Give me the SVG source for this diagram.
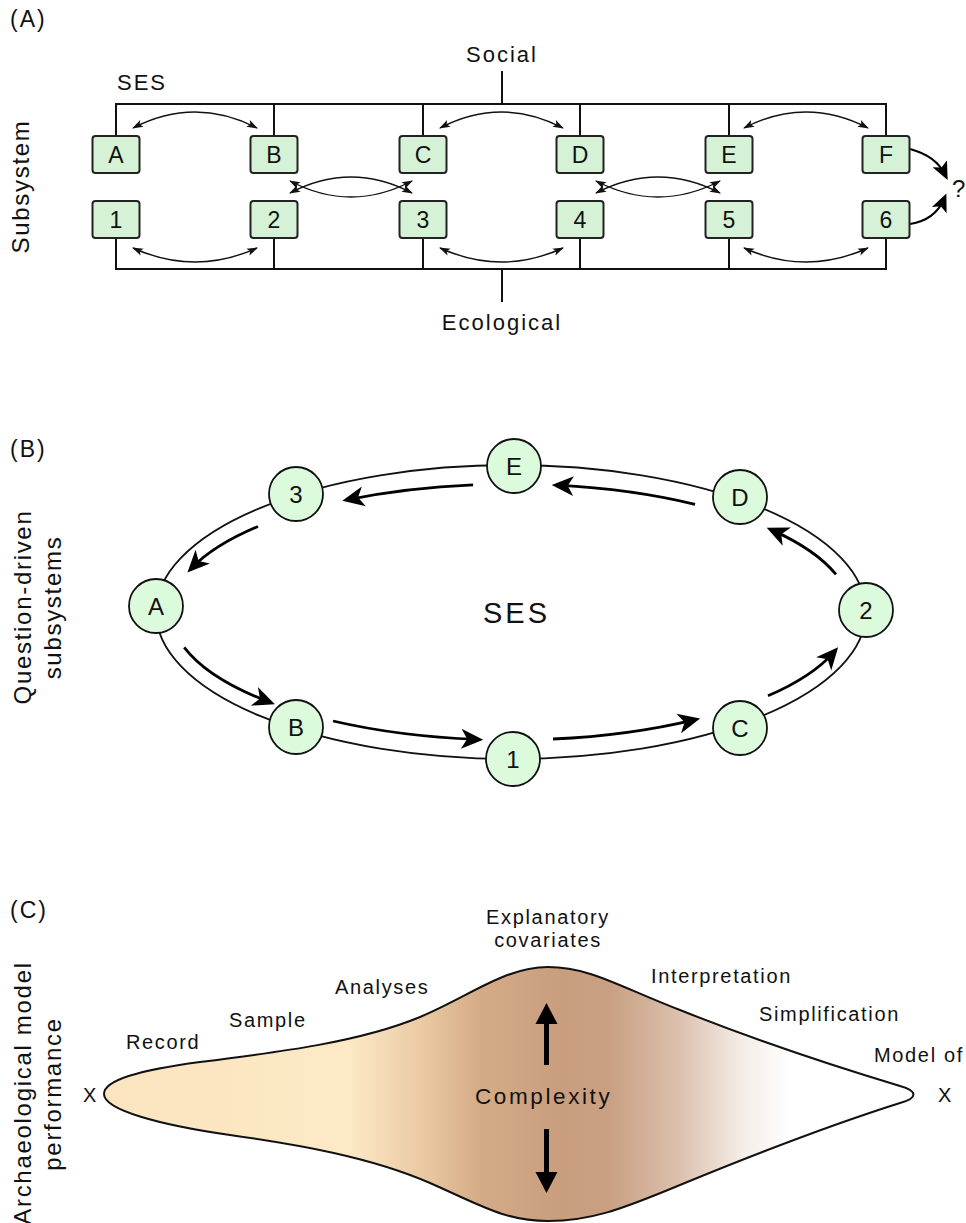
<svg xmlns="http://www.w3.org/2000/svg" width="966" height="1223" viewBox="0 0 966 1223">
<style>
text{font-family:"Liberation Sans",Arial,sans-serif;fill:#111}
.lbl{font-size:22px;letter-spacing:2px}
.side{font-size:24px;letter-spacing:1.7px;text-anchor:middle}
.pnl{font-size:23px;letter-spacing:2px}
.box rect{fill:#d6f2d6;stroke:#222;stroke-width:2}
.box text{font-size:23px;text-anchor:middle}
.node circle{fill:#dcfadc;stroke:#111;stroke-width:1.8}
.node text{font-size:24px;text-anchor:middle}
.ln{fill:none;stroke:#111;stroke-width:2}
.thin{fill:none;stroke:#111;stroke-width:1.4;marker-start:url(#sm);marker-end:url(#sm)}
.bold{fill:none;stroke:#000;stroke-width:2.8;marker-end:url(#bg)}
.q{fill:none;stroke:#000;stroke-width:2;marker-end:url(#qa)}
.c{font-size:20px;letter-spacing:1.65px}
</style>
<defs>
<marker id="sm" markerUnits="userSpaceOnUse" markerWidth="14" markerHeight="10" viewBox="-1 -5 14 10" refX="10" refY="0" orient="auto-start-reverse"><path d="M0,-3.8 L11,0 L0,3.8 L2.5,0 z" fill="#111"/></marker>
<marker id="bg" markerUnits="userSpaceOnUse" markerWidth="24" markerHeight="22" viewBox="0 -11 24 22" refX="16" refY="0" orient="auto"><path d="M0,-10 L22,0 L0,10 L6,0 z" fill="#000"/></marker>
<marker id="qa" markerUnits="userSpaceOnUse" markerWidth="20" markerHeight="18" viewBox="0 -9 20 18" refX="12" refY="0" orient="auto"><path d="M0,-8 L18,0 L0,8 L4,0 z" fill="#000"/></marker>
<linearGradient id="grad" gradientUnits="userSpaceOnUse" x1="104" y1="0" x2="915" y2="0">
<stop offset="0" stop-color="#fbe4bf"/>
<stop offset="0.303" stop-color="#fde9c6"/>
<stop offset="0.402" stop-color="#e8c69f"/>
<stop offset="0.464" stop-color="#d5ab87"/>
<stop offset="0.562" stop-color="#c99e7e"/>
<stop offset="0.624" stop-color="#c9a083"/>
<stop offset="0.71" stop-color="#dcc1ae"/>
<stop offset="0.784" stop-color="#f4ebe5"/>
<stop offset="0.846" stop-color="#ffffff"/>
<stop offset="1" stop-color="#ffffff"/>
</linearGradient>
</defs>

<!-- Panel A -->
<text class="pnl" x="10" y="27">(A)</text>
<text class="lbl" x="117" y="90">SES</text>
<text class="lbl" x="502" y="62" text-anchor="middle">Social</text>
<text class="lbl" x="502" y="330" text-anchor="middle">Ecological</text>
<text class="side" transform="translate(29,186.5) rotate(-90)">Subsystem</text>
<text x="952" y="197" style="font-size:24px">?</text>

<g id="connectorsA">
<path class="ln" d="M116,136 V104 H886 V136 M274,104 V136 M423,104 V136 M580,104 V136 M729,104 V136 M502,71 V104"/>
<path class="ln" d="M116,238 V269 H886 V238 M274,269 V238 M423,269 V238 M580,269 V238 M729,269 V238 M502,269 V302"/>
<path class="thin" d="M133,128 Q195,96 257,128"/>
<path class="thin" d="M440,128 Q501.5,96 563,128"/>
<path class="thin" d="M744,128 Q806,96 868,128"/>
<path class="thin" d="M133,248 Q195,276 257,248"/>
<path class="thin" d="M440,248 Q501.5,276 563,248"/>
<path class="thin" d="M744,248 Q806,276 868,248"/>
<path class="thin" d="M290,193 Q351,161 412,193"/>
<path class="thin" d="M290,181 Q351,213 412,181"/>
<path class="thin" d="M596,193 Q658,161 720,193"/>
<path class="thin" d="M596,181 Q658,213 720,181"/>
<path class="q" d="M910,149 Q936,156 945,174.6"/>
<path class="q" d="M910,224 Q935,220 944,199"/>
</g>

<g id="boxA" class="box"><rect x="92.5" y="136" width="47" height="37" rx="3"/><text x="116" y="163">A</text></g>
<g id="boxB" class="box"><rect x="250.5" y="136" width="47" height="37" rx="3"/><text x="274" y="163">B</text></g>
<g id="boxC" class="box"><rect x="399.5" y="136" width="47" height="37" rx="3"/><text x="423" y="163">C</text></g>
<g id="boxD" class="box"><rect x="556.5" y="136" width="47" height="37" rx="3"/><text x="580" y="163">D</text></g>
<g id="boxE" class="box"><rect x="705.5" y="136" width="47" height="37" rx="3"/><text x="729" y="163">E</text></g>
<g id="boxF" class="box"><rect x="862.5" y="136" width="47" height="37" rx="3"/><text x="886" y="163">F</text></g>
<g id="box1" class="box"><rect x="92.5" y="201" width="47" height="37" rx="3"/><text x="116" y="228">1</text></g>
<g id="box2" class="box"><rect x="250.5" y="201" width="47" height="37" rx="3"/><text x="274" y="228">2</text></g>
<g id="box3" class="box"><rect x="399.5" y="201" width="47" height="37" rx="3"/><text x="423" y="228">3</text></g>
<g id="box4" class="box"><rect x="556.5" y="201" width="47" height="37" rx="3"/><text x="580" y="228">4</text></g>
<g id="box5" class="box"><rect x="705.5" y="201" width="47" height="37" rx="3"/><text x="729" y="228">5</text></g>
<g id="box6" class="box"><rect x="862.5" y="201" width="47" height="37" rx="3"/><text x="886" y="228">6</text></g>

<!-- Panel B -->
<text class="pnl" x="10" y="457">(B)</text>
<text class="side" transform="translate(31,607) rotate(-90)">Question-driven</text>
<text class="side" transform="translate(61,607.5) rotate(-90)">subsystems</text>
<text x="483" y="623" style="font-size:29px;letter-spacing:3px">SES</text>

<g id="connectorsB">
<ellipse cx="511" cy="612" rx="355" ry="147" fill="none" stroke="#111" stroke-width="1.8"/>
<path class="bold" d="M473.1,484.8 A340,128 0 0 0 348.2,499.6"/>
<path class="bold" d="M258,526.5 A340,128 0 0 0 191.6,568.1"/>
<path class="bold" d="M184.2,647.3 A340,128 0 0 0 269.3,702"/>
<path class="bold" d="M333,721 A340,128 0 0 0 477.2,739.4"/>
<path class="bold" d="M553,739 A340,128 0 0 0 694.3,719.8"/>
<path class="bold" d="M768,695.8 A340,128 0 0 0 834.2,651.8"/>
<path class="bold" d="M836,574.4 A340,128 0 0 0 772.2,530.1"/>
<path class="bold" d="M695,504.4 A340,128 0 0 0 557.7,485.2"/>
</g>

<g id="nodeE" class="node"><circle cx="514" cy="466" r="27"/><text x="514" y="474.6">E</text></g>
<g id="nodeD" class="node"><circle cx="740" cy="497" r="27"/><text x="740" y="505.6">D</text></g>
<g id="node2" class="node"><circle cx="866" cy="610" r="27"/><text x="866" y="618.6">2</text></g>
<g id="nodeC" class="node"><circle cx="740" cy="728" r="27"/><text x="740" y="736.6">C</text></g>
<g id="node1" class="node"><circle cx="513" cy="759" r="27"/><text x="513" y="767.6">1</text></g>
<g id="nodeB" class="node"><circle cx="296" cy="727" r="27"/><text x="296" y="735.6">B</text></g>
<g id="nodeA" class="node"><circle cx="156" cy="606" r="27"/><text x="156" y="614.6">A</text></g>
<g id="node3" class="node"><circle cx="296" cy="494" r="27"/><text x="296" y="502.6">3</text></g>

<!-- Panel C -->
<text class="pnl" x="10" y="918">(C)</text>
<text class="side" transform="translate(31,1093) rotate(-90)">Archaeological model</text>
<text class="side" transform="translate(61,1094) rotate(-90)">performance</text>

<path d="M104,1094 C104,1080 140,1070 200,1062 C280,1052 360,1042 420,1017 C470,996 505,967 548,967 C590,967 620,987 680,1010 C760,1042 840,1068 900,1086 C918,1091 918,1098 900,1103 C840,1122 760,1152 680,1185 C620,1210 590,1221 548,1221 C505,1221 480,1205 430,1183 C370,1157 300,1145 230,1135 C160,1125 104,1110 104,1094 Z" fill="url(#grad)" stroke="#111" stroke-width="2"/>

<rect x="544" y="1020" width="5" height="45" fill="#000"/>
<polygon points="535.5,1024 546.5,1003 557.5,1024" fill="#000"/>
<rect x="544" y="1129" width="5" height="45" fill="#000"/>
<polygon points="535.5,1172 546.5,1193 557.5,1172" fill="#000"/>

<text x="475" y="1104" style="font-size:22.5px;letter-spacing:2.6px">Complexity</text>
<text class="c" x="83" y="1102">X</text>
<text class="c" x="938" y="1102">X</text>
<text class="c" x="126" y="1049">Record</text>
<text class="c" x="229" y="1027">Sample</text>
<text class="c" x="335" y="994">Analyses</text>
<text class="c" x="548" y="924" text-anchor="middle">Explanatory</text>
<text class="c" x="548" y="947" text-anchor="middle">covariates</text>
<text class="c" x="651" y="983">Interpretation</text>
<text class="c" x="759" y="1021">Simplification</text>
<text class="c" x="874" y="1062">Model of</text>
</svg>
